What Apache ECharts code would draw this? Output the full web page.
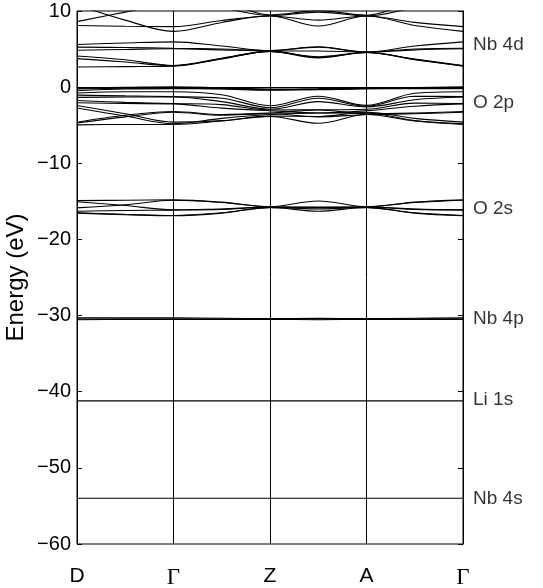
<!DOCTYPE html>
<html>
<head>
<meta charset="utf-8">
<script src="https://cdn.jsdelivr.net/npm/echarts@6/dist/echarts.min.js"></script>
<style>
  html, body { margin: 0; padding: 0; background: #fff; }
  #chart { width: 543px; height: 588px; }
</style>
</head>
<body>
<div id="chart"></div>
<script>
// k-path positions (D .. Gamma .. Z .. A .. Gamma), sampled every half segment
const kx = [0, 0.5, 1, 1.5, 2, 2.5, 3, 3.5, 4]
const kLabels = ['D', 'Γ', 'Z', 'A', 'Γ']

const yTicks = [-60, -50, -40, -30, -20, -10, 0, 10]

// Nb 4d conduction bands (some leave the frame above 10 eV)
const nb4dUpper = [
  [8.6, 9.85, 11.0, 10.4, 9.4, 9.85, 9.35, 10.4, 11.0],
  [8.1, 8.0, 7.95, 8.75, 9.35, 8.8, 9.35, 8.5, 7.95],
  [10.8, 8.8, 7.33, 8.5, 9.35, 8.03, 9.35, 8.1, 7.33],
  [11.5, 11.8, 12.0, 11.2, 9.5, 10.05, 9.45, 11.2, 12.0]
]
const nb4dLower = [
  [5.6, 5.8, 5.95, 5.4, 4.8, 5.3, 4.6, 5.4, 5.95],
  [5.25, 5.2, 5.1, 5.0, 4.8, 5.25, 4.6, 5.0, 5.1],
  [4.85, 4.95, 5.05, 4.9, 4.75, 4.75, 4.6, 4.9, 5.05],
  [4.1, 3.6, 2.85, 3.8, 4.7, 4.0, 4.55, 3.7, 2.85],
  [3.75, 3.3, 2.8, 3.7, 4.7, 3.9, 4.55, 3.6, 2.8],
  [2.65, 2.7, 2.75, 3.75, 4.7, 3.85, 4.55, 3.65, 2.75]
]

// O 2p valence bands
const o2p = [
  [-0.1, -0.02, 0.05, -0.1, -0.25, -0.2, -0.1, -0.05, 0.05],
  [-0.15, -0.1, -0.05, -0.15, -0.3, -0.3, -0.15, -0.1, -0.05],
  [-0.25, -0.15, -0.15, -0.2, -0.35, -0.35, -0.2, -0.15, -0.15],
  [-0.47, -0.25, -0.2, -0.25, -0.4, -0.3, -0.2, -0.2, -0.2],
  [-0.77, -0.6, -0.6, -1.0, -2.45, -1.2, -2.4, -0.8, -0.6],
  [-1.05, -1.15, -1.25, -1.45, -2.7, -1.45, -2.5, -1.2, -1.25],
  [-1.35, -1.3, -1.3, -1.9, -2.9, -1.9, -2.6, -1.65, -1.3],
  [-1.75, -2.0, -2.15, -2.3, -3.0, -2.97, -2.9, -2.1, -2.15],
  [-2.05, -2.15, -2.2, -2.75, -3.1, -3.4, -3.1, -2.5, -2.2],
  [-2.4, -3.5, -4.6, -4.4, -3.8, -3.85, -3.3, -4.1, -4.6],
  [-2.75, -3.8, -4.8, -4.1, -3.6, -3.4, -3.4, -4.4, -4.8],
  [-4.6, -3.7, -3.2, -3.6, -3.4, -3.0, -3.5, -3.4, -3.2],
  [-4.7, -3.9, -3.3, -3.7, -3.5, -3.9, -3.6, -3.5, -3.3],
  [-4.95, -4.9, -4.9, -4.45, -3.85, -4.75, -3.6, -4.45, -4.9]
]

// O 2s bands
const o2s = [
  [-14.9, -14.85, -14.8, -15.1, -15.7, -14.95, -15.7, -15.1, -14.8],
  [-15.85, -15.45, -14.85, -15.15, -15.72, -15.75, -15.72, -15.15, -14.85],
  [-15.05, -15.55, -16.1, -16.0, -15.75, -15.8, -15.75, -16.0, -16.1],
  [-16.3, -16.2, -16.15, -16.05, -15.78, -16.0, -15.78, -16.05, -16.15],
  [-16.5, -16.7, -16.85, -16.5, -15.8, -16.3, -15.8, -16.5, -16.85],
  [-16.55, -16.75, -16.9, -16.55, -15.82, -15.85, -15.82, -16.55, -16.9]
]

// semicore levels
const nb4p = [
  [-30.3, -30.3, -30.3, -30.35, -30.4, -30.35, -30.4, -30.35, -30.3],
  [-30.45, -30.45, -30.45, -30.45, -30.45, -30.45, -30.45, -30.45, -30.45],
  [-30.55, -30.5, -30.5, -30.5, -30.5, -30.55, -30.5, -30.5, -30.5]
]
const li1s = [[-41.2, -41.2, -41.2, -41.2, -41.2, -41.2, -41.2, -41.2, -41.2]]
const nb4s = [[-54.0, -54.0, -54.0, -54.0, -54.0, -54.0, -54.0, -54.0, -54.0]]

// orbital labels on the right side
const levelNames = ['Nb 4d', 'O 2p', 'O 2s', 'Nb 4p', 'Li 1s', 'Nb 4s']
const levelEnergies = [5.6, -2.0, -16.0, -30.4, -41.1, -54.0]

const allBands = [].concat(nb4dUpper, nb4dLower, o2p, o2s, nb4p, li1s, nb4s)

const fontSans = 'Liberation Sans, Arial, sans-serif'

const chart = echarts.init(document.getElementById('chart'))

const bandSeries = allBands.map(band => ({
  type: 'line',
  data: kx.map((k, i) => [k, band[i]]),
  smooth: 0.35,
  symbol: 'none',
  silent: true,
  clip: true,
  lineStyle: { color: '#000', width: 1.1 }
}))

const labelSeries = {
  type: 'scatter',
  symbolSize: 0,
  silent: true,
  clip: false,
  data: levelNames.map((n, i) => ({ value: [4, levelEnergies[i]], name: n })),
  label: {
    show: true,
    position: 'right',
    distance: 10,
    formatter: p => p.name,
    color: '#000',
    fontSize: 19,
    fontFamily: fontSans
  }
}

const yAxisBase = {
  type: 'value',
  min: yTicks[0],
  max: yTicks[yTicks.length - 1],
  interval: 10,
  axisLine: { show: true, lineStyle: { color: '#000', width: 1 } },
  axisTick: { show: true, inside: true, length: 5, lineStyle: { color: '#000' } },
  splitLine: { show: false }
}

const option = {
  animation: false,
  backgroundColor: '#fff',
  grid: {
    left: 77, right: 80, top: 11, bottom: 44,
    outerBoundsMode: 'none',
    show: true, borderColor: '#000', borderWidth: 1, backgroundColor: 'transparent'
  },
  xAxis: {
    type: 'value',
    min: 0, max: 4, interval: 1,
    axisLine: { show: true, lineStyle: { color: '#000' } },
    axisTick: { show: false },
    splitLine: { show: true, lineStyle: { color: '#000', width: 1 } },
    axisLabel: {
      margin: 22,
      color: '#000',
      fontSize: 21,
      fontFamily: fontSans,
      formatter: v => {
        const s = kLabels[Math.round(v)]
        return s === 'Γ' ? '{g|Γ}' : s
      },
      rich: { g: { fontFamily: 'Liberation Serif, serif', fontSize: 23, color: '#000' } }
    }
  },
  yAxis: [
    Object.assign({}, yAxisBase, {
      position: 'left',
      name: 'Energy (eV)',
      nameLocation: 'middle',
      nameGap: 49,
      nameMoveOverlap: false,
      nameTextStyle: { color: '#000', fontSize: 24, fontFamily: fontSans },
      axisLabel: {
        margin: 6,
        color: '#000',
        fontSize: 20,
        fontFamily: fontSans,
        formatter: v => v < 0 ? '\u2212' + Math.abs(v) : String(v)
      }
    }),
    Object.assign({}, yAxisBase, {
      position: 'right',
      axisLabel: { show: false }
    })
  ],
  series: bandSeries.concat([labelSeries])
}

chart.setOption(option)
</script>
</body>
</html>
